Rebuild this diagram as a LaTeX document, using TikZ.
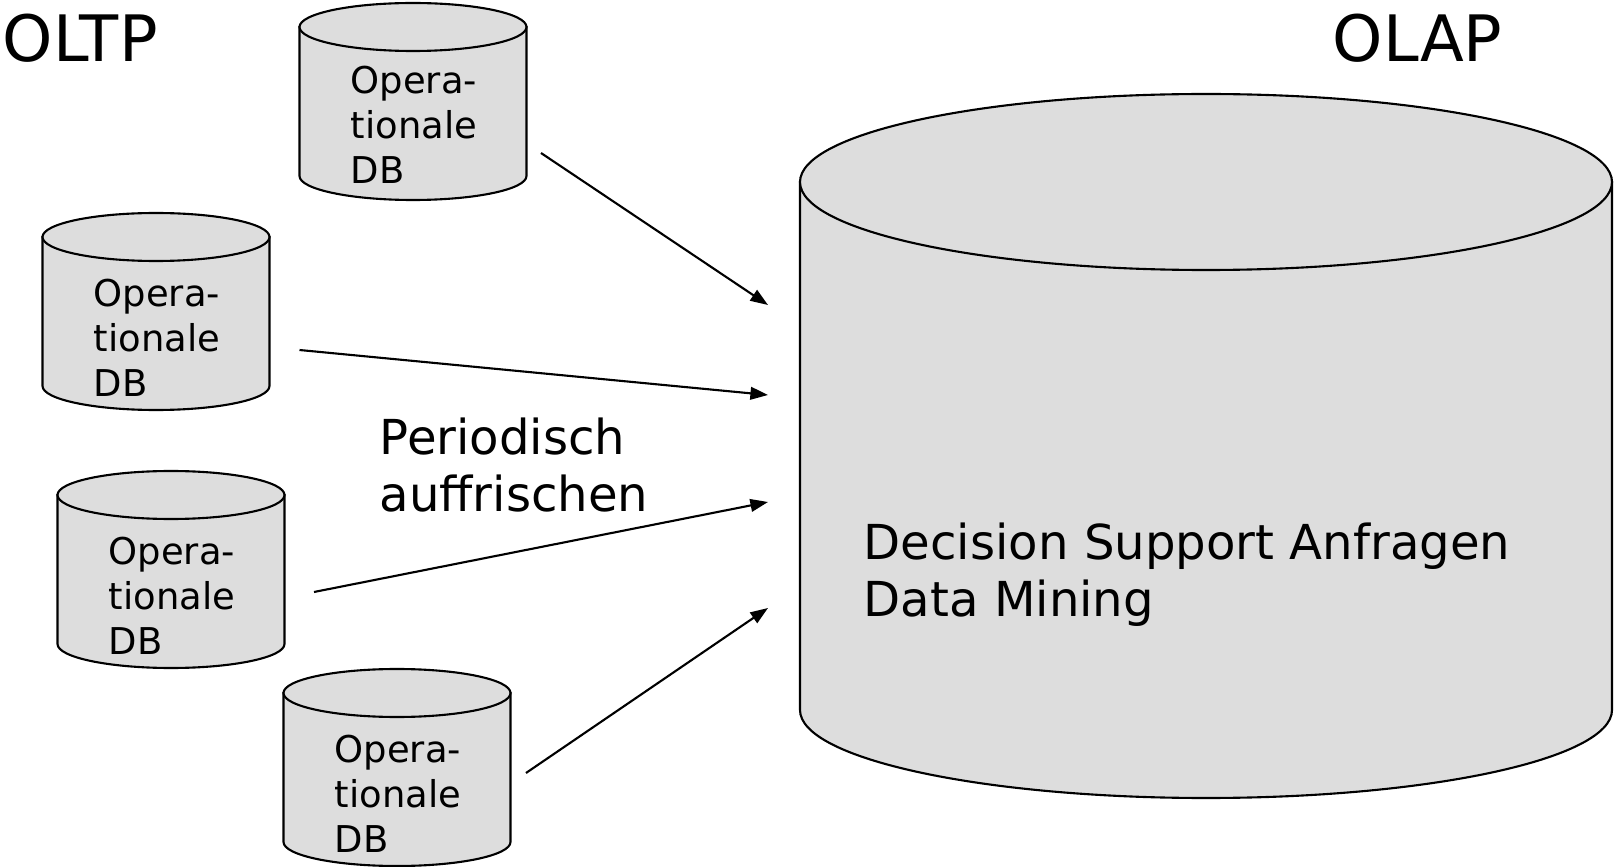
\documentclass[tikz,border=0pt]{standalone}
\usepackage{fontspec}
\setmainfont{DejaVu Sans}
\usepackage{tikz}
\usetikzlibrary{arrows.meta}
\definecolor{dbgray}{RGB}{221,221,221}

\begin{document}
\begin{tikzpicture}[x=0.01cm,y=-0.01cm]
		\tikzstyle{dbbody}=[fill=dbgray,draw=black,line width=0.6pt]
		\tikzstyle{dbtext}=[anchor=north west,inner sep=0,align=left,font=\fontsize{10.5}{12.8}\selectfont]
		\tikzstyle{bigtext}=[anchor=north west,inner sep=0,align=left,font=\fontsize{13.7}{16.2}\selectfont]
		\tikzstyle{title}=[anchor=base west,inner sep=0,font=\fontsize{18.2}{21}\selectfont]
		\tikzstyle{flow}=[line width=0.6pt,-{Triangle[length=5pt,width=3.6pt]}]
		\useasboundingbox (0,0) rectangle (1614,867);

		% cylinders: left, top, width, height, half height of the ellipse
		\foreach \x/\y/\w/\h/\ry in {299.5/3/227/197/24, 42.5/213/227/197/24, 57.5/471/227/197/24, 283.5/669/227/197/24, 800/94/812/704/88}
		{
			\filldraw[dbbody] (\x,\y+\ry) -- (\x,\y+\h-\ry)
				arc[start angle=180,end angle=0,x radius=\w/2,y radius=\ry]
				-- (\x+\w,\y+\ry) -- cycle;
			\filldraw[dbbody] (\x+\w/2,\y+\ry) ellipse [x radius=\w/2,y radius=\ry];
		}

		\node[dbtext] (db1) at (350,65.5) {Opera-\\tionale\\DB};
		\node[dbtext] (db2) at (93,278.5) {Opera-\\tionale\\DB};
		\node[dbtext] (db3) at (108,536.5) {Opera-\\tionale\\DB};
		\node[dbtext] (db4) at (334,734.5) {Opera-\\tionale\\DB};

		\node[title] (oltp) at (2,62) {OLTP};
		\node[title] (olap) at (1332,62) {OLAP};
		\node[bigtext] (refresh) at (379,417) {Periodisch\\auffrischen};
		\node[bigtext] (dss) at (863,522) {Decision Support Anfragen\\Data Mining};

		\coordinate (s1) at (541,153);
		\coordinate (s2) at (299.5,350);
		\coordinate (s3) at (314,592);
		\coordinate (s4) at (526,773);
		\coordinate (e1) at (768,305);
		\coordinate (e2) at (768,395);
		\coordinate (e3) at (768,502);
		\coordinate (e4) at (768,608);
		\foreach \i in {1,...,4}
			\draw[flow] (s\i) -- (e\i);
\end{tikzpicture}
\end{document}
